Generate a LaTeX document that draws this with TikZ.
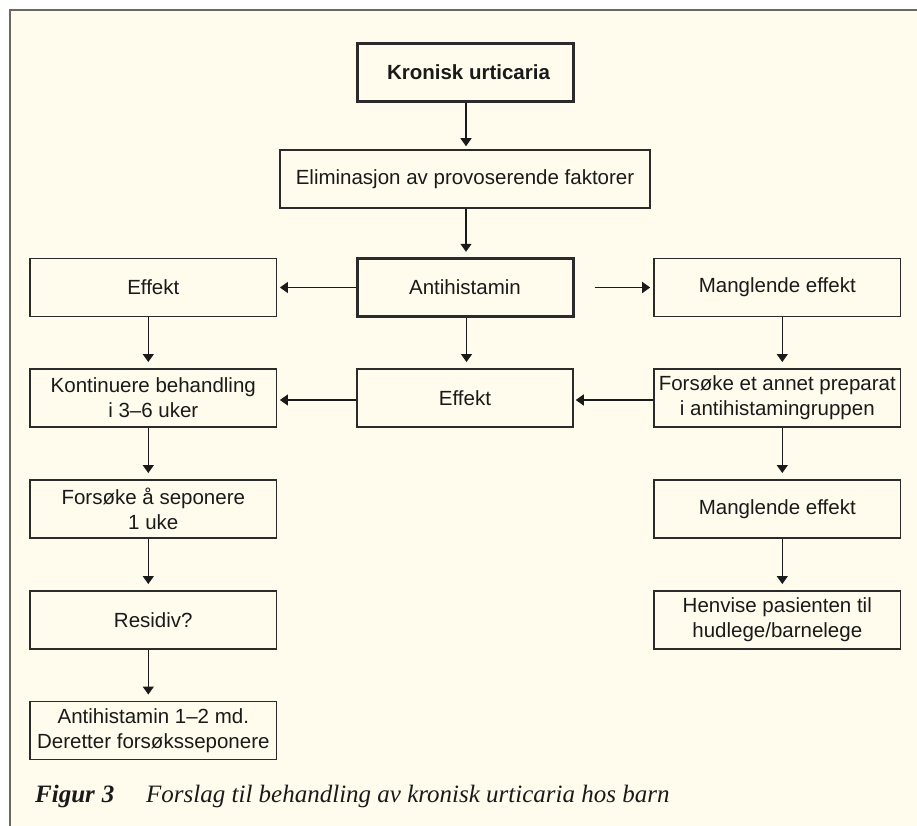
\documentclass[tikz,border=0pt]{standalone}
\usepackage{fontspec}
\setmainfont{Liberation Sans}
\newfontfamily\capfont{Liberation Serif}
\usetikzlibrary{arrows.meta}
\definecolor{cream}{HTML}{FFFCEE}
\definecolor{framegray}{HTML}{6B685E}
\definecolor{ink}{HTML}{1A1A1A}
\definecolor{edge}{HTML}{2B2B2B}
\tikzset{
  box/.style={draw=edge, line width=1.5pt, fill=cream, inner sep=0pt, align=center,
    minimum height=58.4pt, text=ink, font=\fontsize{20.5}{25}\selectfont},
  boxthick/.style={box, line width=3pt},
  wL/.style={minimum width=246.7pt},
  wM/.style={minimum width=216pt},
  conn/.style={draw=ink, line width=1.3pt, -{Triangle[width=11pt,length=8pt]}},
  captext/.style={anchor=base west, inner sep=0pt, text=ink},
}
\begin{document}
\begin{tikzpicture}[x=1pt,y=-1pt]
\useasboundingbox (0,0) rectangle (917,826);
\fill[white] (0,0) rectangle (917,826);
\fill[cream] (10,10) rectangle (917,826);
\draw[framegray, line width=2.2pt] (10,826) -- (10,10) -- (917,10);

\node[boxthick, wM] (kron) at (465,72.5) {\bfseries\hspace*{7pt}Kronisk urticaria};
\node[box, minimum width=370pt, minimum height=58pt] (elim) at (465,179) {Eliminasjon av provoserende faktorer};
\node[boxthick, wM] (anti) at (465,287.5) {Antihistamin};
\node[box, wL] (effL) at (153.3,287.5) {Effekt};
\node[box, wL] (mangR) at (777.3,287.5) {Manglende effekt};
\node[box, wM] (effM) at (465,398) {Effekt};
\node[box, wL] (kont) at (153.3,398) {Kontinuere behandling\\i 3--6 uker};
\node[box, wL] (fors) at (777.3,398) {Forsøke et annet preparat\\i antihistamingruppen};
\node[box, wL] (sep) at (153.3,509) {Forsøke å seponere\\1 uke};
\node[box, wL] (mang2) at (777.3,509) {Manglende effekt};
\node[box, wL] (resid) at (153.3,620) {Residiv?};
\node[box, wL] (henv) at (777.3,620) {Henvise pasienten til\\hudlege/barnelege};
\node[box, wL] (anti2) at (153.3,730.5) {Antihistamin 1--2 md.\\Deretter forsøksseponere};

\node[captext, font=\capfont\fontsize{25}{28}\selectfont\bfseries\itshape] (figlab) at (35,802) {Figur\hspace{7pt}3};
\node[captext, font=\capfont\fontsize{25}{28}\selectfont\itshape] (figtxt) at (146,802) {Forslag til behandling av kronisk urticaria hos barn};

\coordinate (rstart) at ([xshift=20pt]anti.east);

\draw[conn, shorten >=3pt] ([xshift=1pt]kron.south) -- ([xshift=1pt]elim.north);
\draw[conn, shorten >=5pt] ([xshift=1pt]elim.south) -- ([xshift=1pt]anti.north);
\draw[conn, shorten >=6pt] ([xshift=1.5pt]anti.south) -- ([xshift=1.5pt]effM.north);
\draw[conn, shorten >=2.5pt] (anti.west) -- (effL.east);
\draw[conn, shorten >=3pt] (rstart) -- (rstart -| mangR.west);
\draw[conn, shorten >=2.5pt] ([yshift=-2pt]effM.west) -- ([yshift=-2pt]kont.east);
\draw[conn, shorten >=2pt] ([yshift=-2pt]fors.west) -- ([yshift=-2pt]effM.east);

\draw[conn, shorten >=6pt] ([xshift=-5pt]effL.south) -- ([xshift=-5pt]kont.north);
\draw[conn, shorten >=6pt] ([xshift=-5pt]kont.south) -- ([xshift=-5pt]sep.north);
\draw[conn, shorten >=6pt] ([xshift=-5pt]sep.south) -- ([xshift=-5pt]resid.north);
\draw[conn, shorten >=6pt] ([xshift=-5pt]resid.south) -- ([xshift=-5pt]anti2.north);

\draw[conn, shorten >=6pt] ([xshift=5pt]mangR.south) -- ([xshift=5pt]fors.north);
\draw[conn, shorten >=6pt] ([xshift=5pt]fors.south) -- ([xshift=5pt]mang2.north);
\draw[conn, shorten >=6pt] ([xshift=5pt]mang2.south) -- ([xshift=5pt]henv.north);
\end{tikzpicture}
\end{document}
